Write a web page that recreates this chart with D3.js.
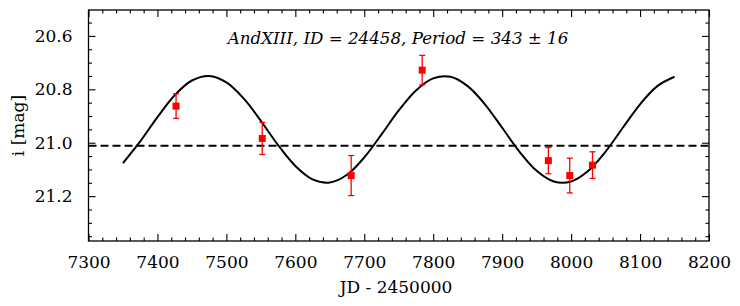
<!DOCTYPE html>
<html>
<head>
<meta charset="utf-8">
<script src="https://cdn.jsdelivr.net/npm/d3@7"></script>
<style>
  body { margin: 0; background: #fff; }
  .axis path.domain { display: none; }
  .axis line { stroke: #000; stroke-width: 1.1; }
</style>
</head>
<body>
<svg id="chart" width="740" height="306"></svg>
<script>
// observations
const obsJd = [7427, 7552, 7681, 7784, 7967, 7998, 8031];
const obsMag = [20.863, 20.984, 21.123, 20.728, 21.067, 21.123, 21.084];
const obsErr = [0.046, 0.060, 0.075, 0.055, 0.049, 0.065, 0.050];

// fitted curve
const fitJd = [7350, 7375, 7400, 7425, 7450, 7475, 7500, 7525, 7550, 7575, 7600,
  7625, 7650, 7675, 7700, 7725, 7750, 7775, 7800, 7825, 7850, 7875, 7900,
  7925, 7950, 7975, 8000, 8025, 8050, 8075, 8100, 8125, 8150];
const fitMag = [21.076, 20.995, 20.904, 20.822, 20.767, 20.750, 20.774, 20.834,
  20.918, 21.009, 21.087, 21.137, 21.149, 21.120, 21.055, 20.969, 20.879, 20.804,
  20.759, 20.753, 20.788, 20.856, 20.944, 21.033, 21.105, 21.145, 21.145, 21.105,
  21.033, 20.944, 20.856, 20.788, 20.753];

const meanMag = 21.011;

const xTicks = [7300, 7400, 7500, 7600, 7700, 7800, 7900, 8000, 8100, 8200];
const yTicks = [20.6, 20.8, 21.0, 21.2];
const xMinor = [7320, 7340, 7360, 7380, 7420, 7440, 7460, 7480, 7520, 7540, 7560, 7580,
  7620, 7640, 7660, 7680, 7720, 7740, 7760, 7780, 7820, 7840, 7860, 7880,
  7920, 7940, 7960, 7980, 8020, 8040, 8060, 8080, 8120, 8140, 8160, 8180];
const yMinor = [20.55, 20.65, 20.7, 20.75, 20.85, 20.9, 20.95, 21.05, 21.1, 21.15,
  21.25, 21.3, 21.35];
const title = "AndXIII, ID = 24458, Period = 343 \u00b1 16";

const FONT = "DejaVu Serif";
const svg = d3.select("#chart");
const w = 740, h = 306;
const m = { left: 88.5, right: 31, top: 10, bottom: 65 };

const xScale = d3.scaleLinear()
    .domain([7300, 8200])
    .range([m.left, w - m.right]);

const yScale = d3.scaleLinear()
    .domain([20.503, 21.368])
    .range([m.top, h - m.bottom]);

function addAxis(axisFn, scale, pos, values, size, labels, pad) {
    const ax = axisFn(scale)
        .tickValues(values)
        .tickSizeInner(-size)
        .tickSizeOuter(0)
        .tickPadding(pad || 0);
    if (labels) ax.tickFormat(labels); else ax.tickFormat("");
    const g = svg.append("g").attr("class", "axis").attr("transform", pos).call(ax);
    g.attr("font-family", FONT).attr("font-size", 17);
    g.selectAll("text").attr("fill", "#000");
    return g;
}

const bottomY = h - m.bottom, rightX = w - m.right;
addAxis(d3.axisBottom, xScale, "translate(0," + bottomY + ")", xTicks, 7, d3.format("d"), 15);
addAxis(d3.axisBottom, xScale, "translate(0," + bottomY + ")", xMinor, 3.5, null);
addAxis(d3.axisTop, xScale, "translate(0," + m.top + ")", xTicks, 7, null);
addAxis(d3.axisTop, xScale, "translate(0," + m.top + ")", xMinor, 3.5, null);
addAxis(d3.axisLeft, yScale, "translate(" + m.left + ",0)", yTicks, 7, d3.format(".1f"), 16);
addAxis(d3.axisLeft, yScale, "translate(" + m.left + ",0)", yMinor, 3.5, null);
addAxis(d3.axisRight, yScale, "translate(" + rightX + ",0)", yTicks, 7, null);
addAxis(d3.axisRight, yScale, "translate(" + rightX + ",0)", yMinor, 3.5, null);

// mean line
svg.append("line")
    .attr("x1", m.left).attr("x2", rightX)
    .attr("y1", yScale(meanMag)).attr("y2", yScale(meanMag))
    .attr("stroke", "#000").attr("stroke-width", 2)
    .attr("stroke-dasharray", "8,4");

// fit curve
const fitData = fitJd.map((d, i) => [d, fitMag[i]]);
svg.append("path")
    .datum(fitData)
    .attr("fill", "none")
    .attr("stroke", "#000")
    .attr("stroke-width", 2)
    .attr("d", d3.line()
        .x(d => xScale(d[0]))
        .y(d => yScale(d[1]))
        .curve(d3.curveCatmullRom));

// error bars
const obs = obsJd.map((d, i) => ({ jd: d, mag: obsMag[i], err: obsErr[i] }));
const eb = svg.append("g").attr("stroke", "#ff0000").attr("stroke-width", 1.3);
eb.selectAll(".bar").data(obs).enter().append("line")
    .attr("x1", d => xScale(d.jd)).attr("x2", d => xScale(d.jd))
    .attr("y1", d => yScale(d.mag - d.err)).attr("y2", d => yScale(d.mag + d.err));
eb.selectAll(".capTop").data(obs).enter().append("line")
    .attr("x1", d => xScale(d.jd) - 3).attr("x2", d => xScale(d.jd) + 3)
    .attr("y1", d => yScale(d.mag - d.err)).attr("y2", d => yScale(d.mag - d.err));
eb.selectAll(".capBot").data(obs).enter().append("line")
    .attr("x1", d => xScale(d.jd) - 3).attr("x2", d => xScale(d.jd) + 3)
    .attr("y1", d => yScale(d.mag + d.err)).attr("y2", d => yScale(d.mag + d.err));

svg.selectAll("rect.dot").data(obs).enter().append("rect")
    .attr("class", "dot")
    .attr("x", d => xScale(d.jd) - 3.5)
    .attr("y", d => yScale(d.mag) - 3.5)
    .attr("width", 7).attr("height", 7)
    .attr("fill", "#ff0000");

// frame
svg.append("rect")
    .attr("x", m.left).attr("y", m.top)
    .attr("width", rightX - m.left).attr("height", bottomY - m.top)
    .attr("fill", "none").attr("stroke", "#000").attr("stroke-width", 1.3);

// title and labels
svg.append("text")
    .attr("x", 398).attr("y", 44)
    .attr("text-anchor", "middle")
    .attr("font-family", FONT)
    .attr("font-style", "italic")
    .attr("font-size", 16.7)
    .text(title);

svg.append("text")
    .attr("x", 396).attr("y", 293)
    .attr("text-anchor", "middle")
    .attr("font-family", FONT)
    .attr("font-size", 17)
    .text("JD - 2450000");

svg.append("text")
    .attr("transform", "translate(24," + ((m.top + bottomY) / 2) + ") rotate(-90)")
    .attr("text-anchor", "middle")
    .attr("font-family", FONT)
    .attr("font-size", 17)
    .text("i [mag]");
</script>
</body>
</html>
